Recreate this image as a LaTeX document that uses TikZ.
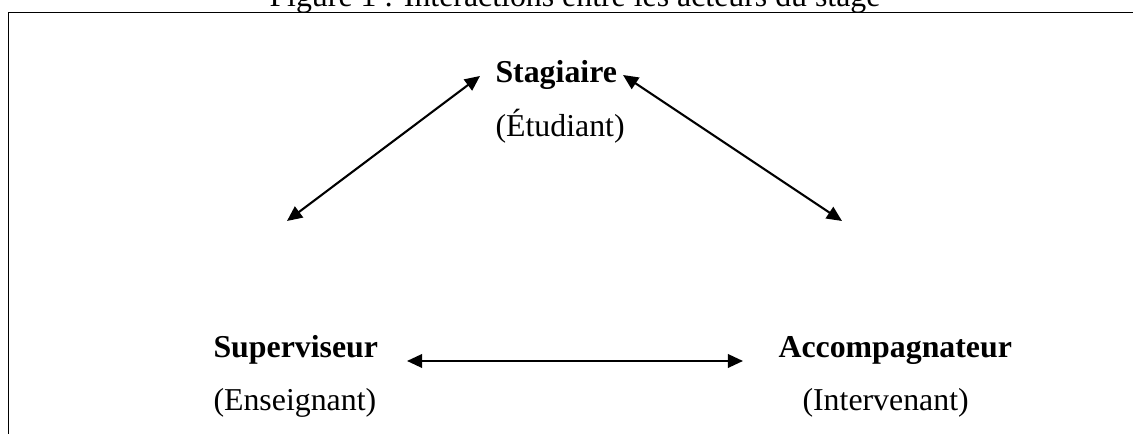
\documentclass[tikz,border=0pt]{standalone}
\usepackage{fontspec}
\setmainfont{Liberation Serif}
\usetikzlibrary{arrows.meta}
\tikzset{
	acteur/.style={font=\fontsize{12.2}{14}\selectfont\bfseries, inner sep=0pt, anchor=base west},
	role/.style={font=\fontsize{12.2}{14}\selectfont, inner sep=0pt, anchor=base west},
	lien/.style={{Triangle[length=5.8pt,width=5.2pt]}-{Triangle[length=5.8pt,width=5.2pt]}, line width=0.8pt}
}
\begin{document}
\begin{tikzpicture}[x=0.3832pt,y=-0.3832pt]
			\useasboundingbox (0,0) rectangle (1133,434);
			\node[role] (titre) at (269,7) {Figure 1 : Interactions entre les acteurs du stage};
			\draw[line width=0.75pt] (8.5,440) -- (8.5,12.5) -- (1140,12.5);
			\node[acteur] (stag) at (495,83) {Stagiaire};
			\node[role] (etud) at (495,137) {(Étudiant)};
			\node[acteur] (sup) at (213,358) {Superviseur};
			\node[role] (ens) at (213,411) {(Enseignant)};
			\node[acteur] (acc) at (778,358) {Accompagnateur};
			\node[role] (inter) at (802,411) {(Intervenant)};
			\path 
			(480,76) coordinate (S1)
			(287,221) coordinate (G)
			(623,75) coordinate (S2)
			(842,221) coordinate (D)
			(407,361) coordinate (H1)
			(743,361) coordinate (H2);
			%		\draw (sup.east)--(acc.west);
			\foreach \p/\q in {S1/G,S2/D,H1/H2}
			\draw[lien] (\p)--(\q);
		\end{tikzpicture}
\end{document}
